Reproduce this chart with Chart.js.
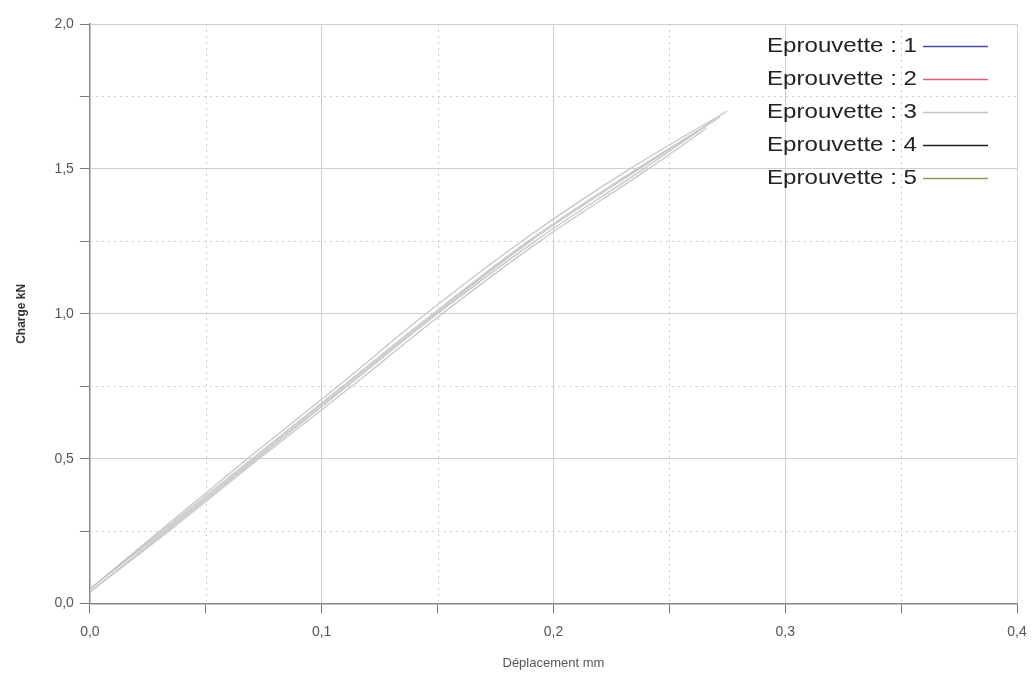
<!DOCTYPE html>
<html>
<head>
<meta charset="utf-8">
<script src="https://cdn.jsdelivr.net/npm/chart.js@4"></script>
<style>
  html, body { margin: 0; padding: 0; background: #fff; }
  #wrap { width: 1034px; height: 680px; }
</style>
</head>
<body>
<div id="wrap"><canvas id="graphique"></canvas></div>
<script>
// donnees (deplacement mm / charge kN)
const eprouvettes = ['Eprouvette : 1', 'Eprouvette : 2', 'Eprouvette : 3', 'Eprouvette : 4', 'Eprouvette : 5'];
const couleursLegende = ['#4a4aa8', '#e05a78', '#c2c2c2', '#222222', '#8f9a55'];

const depl1 = [0, 0.030, 0.068, 0.107, 0.145, 0.188, 0.233, 0.275];
const charge1 = [0.05, 0.25, 0.50, 0.75, 1.00, 1.26, 1.50, 1.70];
const depl2 = [0, 0.031, 0.070, 0.109, 0.148, 0.189, 0.236, 0.272];
const charge2 = [0.05, 0.25, 0.50, 0.75, 1.00, 1.25, 1.50, 1.68];
const depl3 = [0, 0.033, 0.072, 0.111, 0.150, 0.192, 0.239, 0.268];
const charge3 = [0.04, 0.25, 0.50, 0.75, 1.00, 1.25, 1.50, 1.66];
const depl4 = [0, 0.034, 0.073, 0.113, 0.152, 0.194, 0.241, 0.266];
const charge4 = [0.04, 0.25, 0.50, 0.75, 1.00, 1.25, 1.50, 1.64];
const depl5 = [0, 0.032, 0.071, 0.110, 0.149, 0.190, 0.237, 0.270];
const charge5 = [0.05, 0.25, 0.50, 0.75, 1.00, 1.25, 1.50, 1.67];

const xMin = 0, xMax = 0.4, xPas = 0.05;
const yMin = 0, yMax = 2.0, yPas = 0.25;

const deplacements = [depl1, depl2, depl3, depl4, depl5];
const charges = [charge1, charge2, charge3, charge4, charge5];

function points(xs, ys) {
    return xs.map((x, i) => ({ x: x, y: ys[i] }));
}

// grille mineure en pointilles (0,05 / 0,25)
const grilleMineure = {
    id: 'grilleMineure',
    beforeDatasetsDraw(chart) {
        const { ctx, chartArea, scales } = chart;
        ctx.save();
        ctx.strokeStyle = '#cfcfcf';
        ctx.lineWidth = 1;
        ctx.setLineDash([2, 4]);
        scales.x.ticks.forEach((t, i) => {
            if (i % 2 === 1) {
                const px = Math.round(scales.x.getPixelForValue(t.value)) + 0.5;
                ctx.beginPath();
                ctx.moveTo(px, chartArea.top);
                ctx.lineTo(px, chartArea.bottom);
                ctx.stroke();
            }
        });
        scales.y.ticks.forEach((t, i) => {
            if (i % 2 === 1) {
                const py = Math.round(scales.y.getPixelForValue(t.value)) + 0.5;
                ctx.beginPath();
                ctx.moveTo(chartArea.left, py);
                ctx.lineTo(chartArea.right, py);
                ctx.stroke();
            }
        });
        ctx.restore();
    }
};

// legende dans le coin haut droit, texte (un peu etire) puis trait
const legendeInterne = {
    id: 'legendeInterne',
    afterDraw(chart) {
        const { ctx, chartArea } = chart;
        ctx.save();
        ctx.font = '21px "Liberation Sans", Arial, sans-serif';
        ctx.textAlign = 'right';
        ctx.textBaseline = 'middle';
        eprouvettes.forEach((nom, i) => {
            const y = chartArea.top + 22 + i * 33;
            const xTexte = chartArea.right - 100;
            const etirement = 150 / ctx.measureText(nom).width;
            ctx.save();
            ctx.translate(xTexte, y);
            ctx.scale(etirement, 1);
            ctx.fillStyle = '#222';
            ctx.fillText(nom, 0, 0);
            ctx.restore();
            ctx.strokeStyle = couleursLegende[i];
            ctx.lineWidth = 1.5;
            ctx.beginPath();
            ctx.moveTo(chartArea.right - 94, y + 0.5);
            ctx.lineTo(chartArea.right - 29, y + 0.5);
            ctx.stroke();
        });
        ctx.restore();
    }
};

const virgule = v => v.toFixed(1).replace('.', ',');

new Chart(document.getElementById('graphique'), {
    type: 'line',
    data: {
        datasets: eprouvettes.map((nom, i) => ({
            label: nom,
            data: points(deplacements[i], charges[i]),
            borderColor: '#c6c6c6',
            borderWidth: 1.3,
            pointRadius: 0,
            fill: false,
            cubicInterpolationMode: 'monotone'
        }))
    },
    options: {
        responsive: true,
        maintainAspectRatio: false,
        animation: false,
        layout: { padding: { top: 24, right: 17, bottom: 9, left: 14 } },
        plugins: {
            legend: { display: false },
            tooltip: { enabled: false }
        },
        scales: {
            x: {
                type: 'linear',
                min: xMin,
                max: xMax,
                afterFit: scale => { scale.paddingRight = 0; },
                ticks: {
                    stepSize: xPas,
                    autoSkip: false,
                    maxRotation: 0,
                    color: '#555',
                    font: { family: '"Liberation Sans", Arial, sans-serif', size: 14 },
                    padding: 10,
                    callback: (v, i) => i % 2 === 0 ? virgule(v) : ''
                },
                grid: {
                    color: c => (c.index % 2 === 0 && c.index > 0) ? '#cfcfcf' : 'rgba(0,0,0,0)',
                    tickColor: '#777',
                    tickLength: 10,
                    lineWidth: 1
                },
                border: { color: '#888', width: 1.5 },
                title: {
                    display: true,
                    text: 'Déplacement mm',
                    color: '#555',
                    font: { family: '"Liberation Sans", Arial, sans-serif', size: 13 },
                    padding: { top: 5, bottom: 0 }
                }
            },
            y: {
                type: 'linear',
                min: yMin,
                max: yMax,
                ticks: {
                    stepSize: yPas,
                    autoSkip: false,
                    color: '#555',
                    font: { family: '"Liberation Sans", Arial, sans-serif', size: 14 },
                    padding: 6,
                    callback: (v, i) => i % 2 === 0 ? virgule(v) : ''
                },
                grid: {
                    color: c => (c.index % 2 === 0 && c.index > 0) ? '#cfcfcf' : 'rgba(0,0,0,0)',
                    tickColor: '#777',
                    tickLength: 10,
                    lineWidth: 1
                },
                border: { color: '#888', width: 1.5 },
                title: {
                    display: true,
                    text: 'Charge kN',
                    color: '#333',
                    font: { family: '"Liberation Sans", Arial, sans-serif', size: 12, weight: 'bold' },
                    padding: { top: 0, bottom: 20 }
                }
            }
        }
    },
    plugins: [grilleMineure, legendeInterne]
});
</script>
</body>
</html>
